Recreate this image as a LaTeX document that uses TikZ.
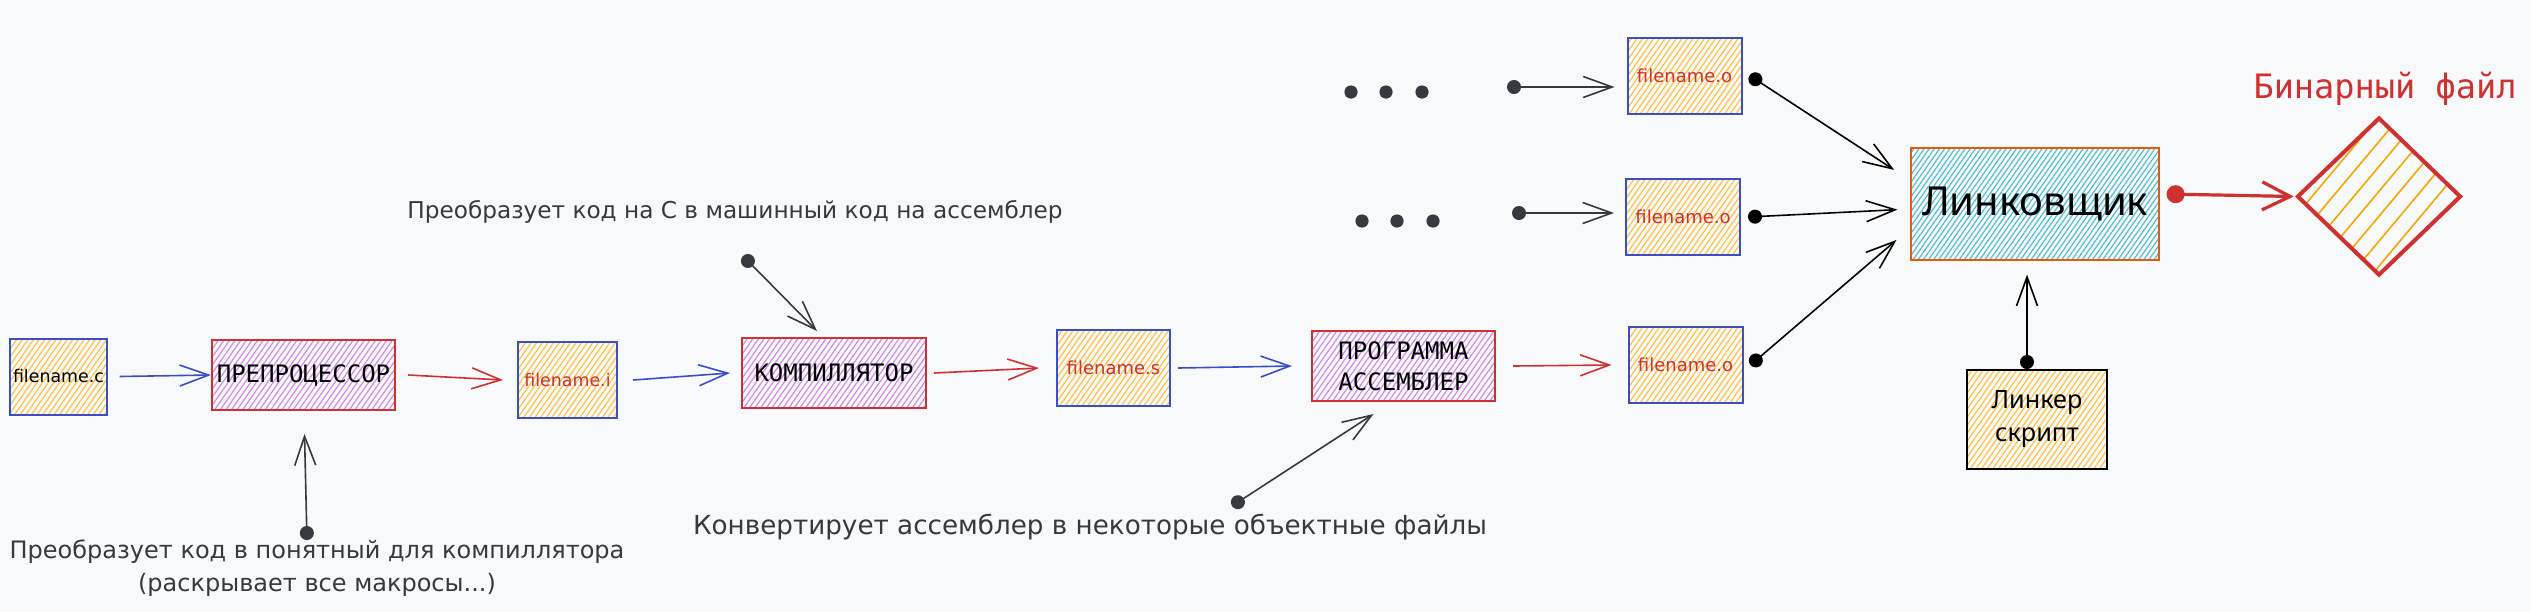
\documentclass[tikz,border=0pt]{standalone}
\usepackage{fontspec}
\setmainfont{DejaVu Sans}
\newfontfamily\monof{DejaVu Sans Mono}
\newfontfamily\labf{Noto Sans}
\newfontfamily\handf{DejaVu Sans}
\usetikzlibrary{arrows.meta,patterns.meta,shapes.geometric,calc}
\definecolor{bg}{HTML}{F8F9FA}
\definecolor{sblue}{HTML}{3B4FC4}
\definecolor{sred}{HTML}{CF3030}
\definecolor{hyel}{HTML}{FFC23D}
\definecolor{hpur}{HTML}{D089E4}
\definecolor{hcyan}{HTML}{4FBFD0}
\definecolor{sorange}{HTML}{E8590C}
\definecolor{ink}{HTML}{343A40}
\definecolor{dorange}{HTML}{F5A700}
\tikzset{
  box/.style={draw, line width=1pt, inner sep=0pt, align=center},
  hach/.style={pattern={Lines[angle=55,distance=2.3pt,line width=0.6pt]}},
  filebox/.style={box, hach, draw=sblue, pattern color=hyel,
    text=sred, font=\handf\fontsize{9}{10}\selectfont, minimum width=57pt, minimum height=38pt},
  procbox/.style={box, hach, draw=sred, pattern color=hpur,
    font=\monof\fontsize{12}{15.5}\selectfont, minimum width=91.5pt, minimum height=35pt},
  note/.style={text=ink, font=\handf\fontsize{12}{16.5}\selectfont, align=center, inner sep=0pt},
  tipb/.style={-{Straight Barb[length=14.5pt,width=10.5pt,line width=0.8pt]}},
  flowb/.style={tipb, draw=sblue, line width=0.8pt},
  flowr/.style={tipb, draw=sred, line width=0.8pt},
  dotarr/.style={{Circle[length=7pt]}-{Straight Barb[length=14.5pt,width=10.5pt,line width=0.8pt]}, draw=black, line width=0.8pt},
  notearr/.style={{Circle[length=7pt]}-{Straight Barb[length=14.5pt,width=10.5pt,line width=0.8pt]}, draw=ink, line width=0.8pt},
}
\begin{document}
\begin{tikzpicture}[x=0.5pt,y=-0.5pt]
\fill[bg] (0,0) rectangle (2531,612);
\useasboundingbox (0,0) rectangle (2531,612);

% main chain
\node[filebox, text=black, minimum width=48.5pt, font=\handf\fontsize{8.7}{10}\selectfont] (fc) at (58.5,376.5) {filename.c};
\node[procbox] (pre) at (303.5,375) {ПРЕПРОЦЕССОР};
\node[filebox, minimum width=49.5pt, font=\handf\fontsize{8.7}{10}\selectfont] (fi) at (567.5,380) {filename.i};
\node[procbox, minimum width=92pt] (comp) at (834,373) {КОМПИЛЛЯТОР};
\node[filebox, minimum width=56.5pt] (fs) at (1113.5,368) {filename.s};
\node[procbox] (asm) at (1403.5,366) {ПРОГРАММА\\АССЕМБЛЕР};
\node[filebox] (fo3) at (1685.5,365) {filename.o};
\node[filebox] (fo2) at (1683,217) {filename.o};
\node[filebox] (fo1) at (1684.5,75.5) {filename.o};

\node[box, draw=sorange, pattern={Lines[angle=55,distance=2.1pt,line width=0.6pt]}, pattern color=hcyan,
  font=\labf\fontsize{20}{24}\selectfont, minimum width=124pt, minimum height=56pt] (link) at (2035,204) {Линковщик};
\node[box, hach, draw=black, pattern color=hyel,
  font=\labf\fontsize{12.6}{16.5}\selectfont, minimum width=70pt, minimum height=49.5pt] (ls) at (2037,419.5) {Линкер\\скрипт};
\node[diamond, draw=sred, line width=2pt, inner sep=0pt, minimum width=81.5pt, minimum height=78.5pt,
  pattern={Lines[angle=50,distance=8pt,line width=0.8pt]}, pattern color=dorange] (bin) at (2379,196.5) {};
\node[text=sred, font=\monof\fontsize{16.8}{20}\selectfont, inner sep=0pt, anchor=base] (bint) at (2385,98) {Бинарный файл};

% notes
\node[note] (n1) at (317,568) {Преобразует код в понятный для компиллятора\\(раскрывает все макросы...)};
\node[note, font=\handf\fontsize{11.6}{16.5}\selectfont] (n2) at (735,212) {Преобразует код на С в машинный код на ассемблер};
\node[note, font=\handf\fontsize{13.1}{16.5}\selectfont] (n3) at (1090,527) {Конвертирует ассемблер в некоторые объектные файлы};

% flow arrows
\draw[flowb] ([xshift=6pt]fc.east) -- (pre.west);
\draw[flowr] ([xshift=6pt]pre.east) -- ([xshift=-7pt]fi.west);
\draw[flowb] ([xshift=7.5pt]fi.east) -- ([xshift=-5.5pt]comp.west);
\draw[flowr] ([xshift=3.5pt]comp.east) -- ([xshift=-8.5pt]fs.west);
\draw[flowb] ([xshift=3.5pt]fs.east) -- ([xshift=-9.5pt]asm.west);
\draw[flowr] ([xshift=8.5pt]asm.east) -- ([xshift=-8pt]fo3.west);

% into linker
\draw[dotarr, shorten >=9.7pt] ([xshift=3.5pt]fo1.east) -- ($(link.west)+(0,-23.5)$);
\draw[dotarr, shorten >=6.5pt] ([xshift=3.5pt]fo2.east) -- ($(link.west)+(0,5)$);
\draw[dotarr, shorten >=9.2pt] ([xshift=3.5pt]fo3.east) -- ($(link.west)+(0,24)$);
\draw[dotarr] ([xshift=-5pt]ls.north) -- ([xshift=-4pt,yshift=-7pt]link.south);
\draw[{Circle[length=9pt]}-{Straight Barb[length=14pt,width=14pt,line width=1.6pt]}, draw=sred, line width=1.6pt]
  ([xshift=3.5pt,yshift=5pt]link.east) -- ([xshift=-1.5pt]bin.west);

% ellipsis rows
\foreach \x in {1351,1386,1422} \fill[ink] (\x,92) circle (3.3pt);
\foreach \x in {1362,1397,1433} \fill[ink] (\x,221) circle (3.3pt);
\coordinate (s1) at (1507,87);
\coordinate (s2) at (1512,213);
\draw[notearr] (s1) -- ([xshift=-6pt,yshift=-5.75pt]fo1.west);
\draw[notearr] (s2) -- ([xshift=-5.5pt,yshift=2pt]fo2.west);

% note arrows
\coordinate (c1) at (307,540);
\coordinate (c2) at (743,256);
\coordinate (c3) at (1232,506);
\draw[notearr] (c1) -- ([xshift=0.5pt,yshift=-11.5pt]pre.south);
\draw[notearr] (c2) -- ([xshift=-8.5pt,yshift=3pt]comp.north);
\draw[notearr] (c3) -- ([xshift=-15pt,yshift=-6pt]asm.south);
\end{tikzpicture}
\end{document}
